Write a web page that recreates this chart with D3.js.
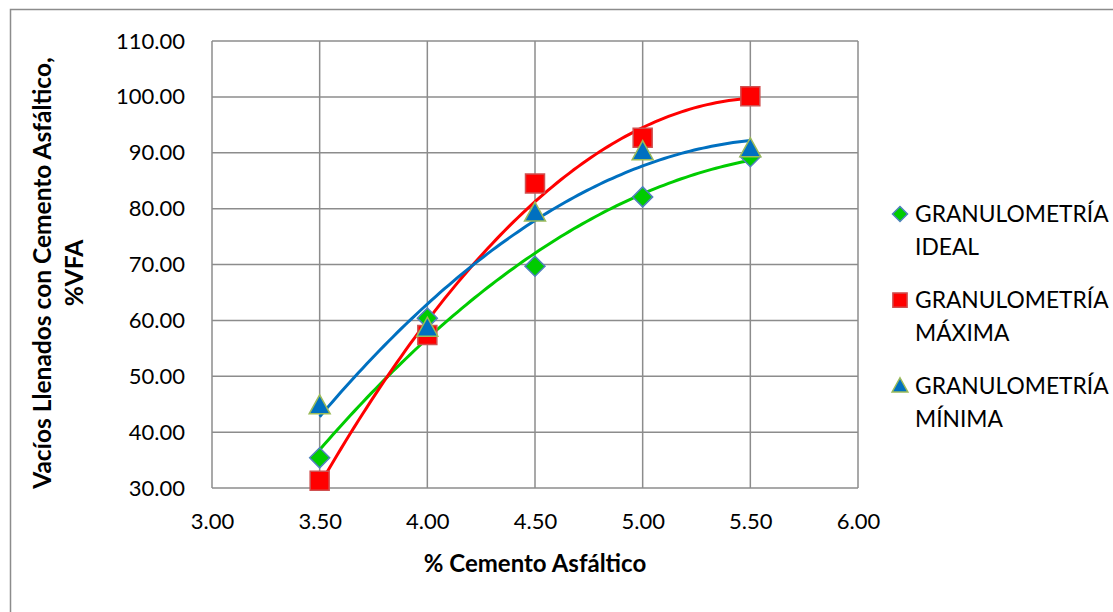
<!DOCTYPE html>
<html><head><meta charset="utf-8">
<script src="https://cdn.jsdelivr.net/npm/d3@7/dist/d3.min.js"></script>
<style>body{margin:0;background:#fff}svg{display:block}text{font-family:Lato,"Open Sans",sans-serif}</style>
</head><body><svg id="c" width="1113" height="612"></svg>
<script>
const cemento = [3.5, 4.0, 4.5, 5.0, 5.5];
const ideal = [35.4, 60.4, 69.7, 82.1, 89.3];
const maxima = [31.3, 57.4, 84.5, 92.7, 100.1];
const minima = [44.7, 58.6, 79.2, 90.2, 90.7];
const seriesNames = ["GRANULOMETRÍA IDEAL", "GRANULOMETRÍA MÁXIMA", "GRANULOMETRÍA MÍNIMA"];
const xTicks = [3.0, 3.5, 4.0, 4.5, 5.0, 5.5, 6.0];
const yTicks = [30, 40, 50, 60, 70, 80, 90, 100, 110];

const svg = d3.select("#c");
const L = 212, R = 858, T = 41, B = 488;
const x = d3.scaleLinear().domain([3, 6]).range([L, R]);
const y = d3.scaleLinear().domain([30, 110]).range([B, T]);

svg.append("rect").attr("x", 10.5).attr("y", 9.5).attr("width", 1200).attr("height", 700)
  .attr("fill", "none").attr("stroke", "#8c8c8c").attr("stroke-width", 1.5);

// gridlines
svg.append("g").selectAll("line").data(yTicks).join("line")
  .attr("x1", L).attr("x2", R).attr("y1", d => y(d)).attr("y2", d => y(d))
  .attr("stroke", "#8c8c8c").attr("stroke-width", 1.5);
svg.append("g").selectAll("line").data(xTicks).join("line")
  .attr("y1", T).attr("y2", B).attr("x1", d => x(d)).attr("x2", d => x(d))
  .attr("stroke", "#8c8c8c").attr("stroke-width", 1.5);

// axes labels via d3 axes
const xAxis = svg.append("g").attr("transform", `translate(0,${B})`)
  .call(d3.axisBottom(x).tickValues(xTicks).tickFormat(d3.format(".2f")).tickSize(0).tickPadding(25));
const yAxis = svg.append("g").attr("transform", `translate(${L},0)`)
  .call(d3.axisLeft(y).tickValues(yTicks).tickFormat(d3.format(".2f")).tickSize(0).tickPadding(27));
[xAxis, yAxis].forEach(a => {
  a.select(".domain").remove();
  a.selectAll("text").attr("font-size", 22).attr("fill", "#000").attr("font-family", "Lato");
});

// quadratic least-squares trendline
function quadFit(xs, ys) {
  let n = xs.length, s = [0,0,0,0,0], t = [0,0,0];
  for (let i = 0; i < n; i++) {
    let p = 1;
    for (let k = 0; k < 5; k++) { s[k] += p; if (k < 3) t[k] += p * ys[i]; p *= xs[i]; }
  }
  const A = [[s[0], s[1], s[2], t[0]], [s[1], s[2], s[3], t[1]], [s[2], s[3], s[4], t[2]]];
  for (let i = 0; i < 3; i++) {
    for (let j = i + 1; j < 3; j++) {
      const f = A[j][i] / A[i][i];
      for (let k = i; k < 4; k++) A[j][k] -= f * A[i][k];
    }
  }
  const c = [0,0,0];
  for (let i = 2; i >= 0; i--) {
    let v = A[i][3];
    for (let k = i + 1; k < 3; k++) v -= A[i][k] * c[k];
    c[i] = v / A[i][i];
  }
  return xv => c[0] + c[1] * xv + c[2] * xv * xv;
}

const series = [
  { vals: ideal, line: "#00CC00", fill: "#00CC00", stroke: "#4F81BD", shape: "diamond" },
  { vals: maxima, line: "#FF0000", fill: "#FF0000", stroke: "#D05050", shape: "square" },
  { vals: minima, line: "#0070C0", fill: "#0070C0", stroke: "#9BBB59", shape: "triangle" }
];
function shapePath(shape) {
  if (shape === "diamond") return "M0,-10L10,0L0,10L-10,0Z";
  if (shape === "square") return "M-9.5,-9.5H9.5V9.5H-9.5Z";
  return "M0,-11L10.5,8L-10.5,8Z";
}

const lineGen = d3.line().x(d => x(d[0])).y(d => y(d[1])).curve(d3.curveLinear);
series.forEach(s => {
  const f = quadFit(cemento, s.vals);
  const xs = d3.range(0, 101).map(i => 3.5 + i * 0.02);
  svg.append("path").datum(xs.map(v => [v, f(v)])).attr("d", lineGen)
    .attr("fill", "none").attr("stroke", s.line).attr("stroke-width", 3);
});
series.forEach(s => {
  svg.append("g").selectAll("path").data(cemento.map((c, i) => [c, s.vals[i]])).join("path")
    .attr("transform", d => `translate(${x(d[0])},${y(d[1])})`)
    .attr("d", shapePath(s.shape)).attr("fill", s.fill).attr("stroke", s.stroke).attr("stroke-width", 1.5);
});

// axis titles
svg.append("text").attr("x", 535).attr("y", 572).attr("text-anchor", "middle")
  .attr("font-weight", "bold").attr("font-size", 24).text("% Cemento Asfáltico");
const yt = svg.append("text").attr("transform", "translate(51,273) rotate(-90)").attr("text-anchor", "middle")
  .attr("font-weight", "bold").attr("font-size", 24.5);
yt.append("tspan").attr("x", 0).attr("dy", 0).text("Vacíos Llenados con Cemento Asfáltico,");
yt.append("tspan").attr("x", 0).attr("dy", 32).text("%VFA");

// legend
const legY = [214, 300, 386];
series.forEach((s, i) => {
  const g = svg.append("g").attr("transform", `translate(900,${legY[i]})`);
  g.append("path").attr("d", shapePath(s.shape)).attr("transform", "scale(0.75)")
    .attr("fill", s.fill).attr("stroke", s.stroke).attr("stroke-width", 2);
  const parts = seriesNames[i].split(" ");
  const t = g.append("text").attr("x", 15).attr("y", 0).attr("dy", "0.35em").attr("font-size", 22.8);
  t.append("tspan").attr("x", 15).text(parts[0]);
  t.append("tspan").attr("x", 15).attr("dy", 33).text(parts[1]);
});
</script></body></html>
